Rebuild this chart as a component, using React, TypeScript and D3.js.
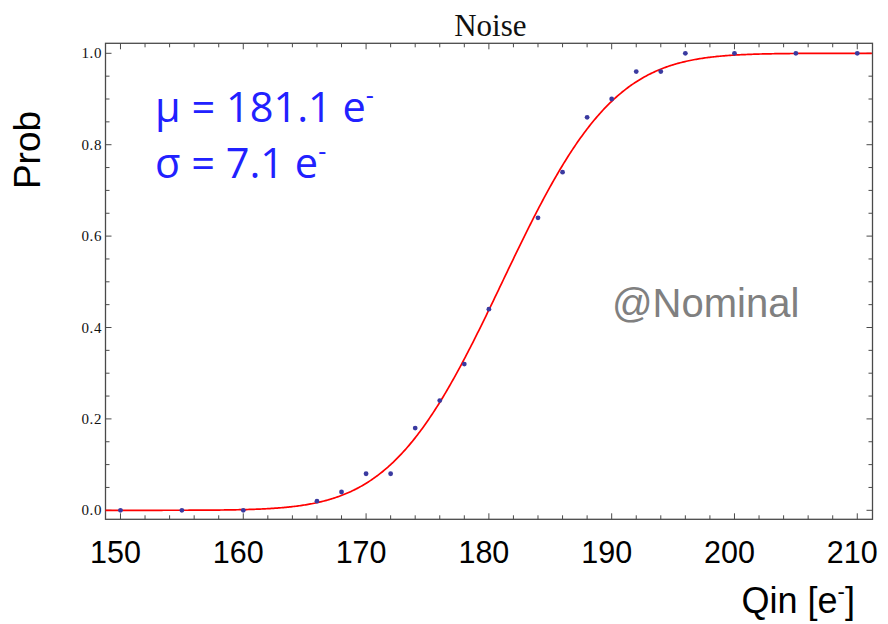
import React from "react";
import * as d3 from "d3";

// ---- data ----
const qinValues = [150, 155, 160, 166, 168, 170, 172, 174, 176, 178, 180, 184, 186, 188, 190, 192, 194, 196, 200, 205, 210];
const probValues = [0, 0, 0, 0.02, 0.04, 0.08, 0.08, 0.18, 0.24, 0.32, 0.44, 0.64, 0.74, 0.86, 0.9, 0.96, 0.96, 1.0, 1.0, 1.0, 1.0];
const fitMu = 181.1;
const fitSigma = 7.1;
const xTickLabels = [150, 160, 170, 180, 190, 200, 210];
const yTickLabels = ["0.0", "0.2", "0.4", "0.6", "0.8", "1.0"];
const titleText = "Noise";
const yTitle = "Prob";
const noteText = "@Nominal";

const W = 888;
const H = 624;
const frame = { left: 105.5, right: 872.5, top: 43.3, bottom: 519.3 };

function erf(x: number): number {
  const s = x < 0 ? -1 : 1;
  const a = Math.abs(x);
  const t = 1 / (1 + 0.3275911 * a);
  const y =
    1 -
    ((((1.061405429 * t - 1.453152027) * t + 1.421413741) * t - 0.284496736) * t + 0.254829592) *
      t *
      Math.exp(-a * a);
  return s * y;
}
const fitCdf = (x: number) => 0.5 * (1 + erf((x - fitMu) / (fitSigma * Math.SQRT2)));

export default function App() {
  const x = d3.scaleLinear().domain([148.78, 211.24]).range([frame.left, frame.right]);
  const y = d3.scaleLinear().domain([-0.0197, 1.0219]).range([frame.bottom, frame.top]);

  const xMajor = xTickLabels;
  const xMinor = d3.range(150, 211, 2).filter((v) => v % 10 !== 0);
  const yMajor = yTickLabels.map((s) => +s);
  const yMinor = d3.range(0, 1.0001, 0.05).filter((v) => Math.abs(v * 5 - Math.round(v * 5)) > 1e-6);

  const [d0, d1] = x.domain();
  const curvePts = d3.range(d0, d1 + 0.001, 0.1).map((v) => [v, fitCdf(v)] as [number, number]);
  const line = d3
    .line<[number, number]>()
    .x((d) => x(d[0]))
    .y((d) => y(d[1]))
    .curve(d3.curveLinear);

  const axisColor = "#4a4a4a";
  const majLen = 6;
  const minLen = 4;

  return (
    <svg width={W} height={H} style={{ position: "absolute", left: 0, top: 0, background: "#fff" }}>
      <rect x={0} y={0} width={W} height={H} fill="#fff" />
      {/* frame */}
      <rect
        x={frame.left}
        y={frame.top}
        width={frame.right - frame.left}
        height={frame.bottom - frame.top}
        fill="none"
        stroke={axisColor}
        strokeWidth={1.3}
      />
      {/* x ticks bottom & top */}
      {xMajor.map((v) => (
        <g key={"xM" + v}>
          <line x1={x(v)} x2={x(v)} y1={frame.bottom} y2={frame.bottom - majLen} stroke={axisColor} strokeWidth={1} />
          <line x1={x(v)} x2={x(v)} y1={frame.top} y2={frame.top + majLen} stroke={axisColor} strokeWidth={1} />
        </g>
      ))}
      {xMinor.map((v) => (
        <g key={"xm" + v}>
          <line x1={x(v)} x2={x(v)} y1={frame.bottom} y2={frame.bottom - minLen} stroke={axisColor} strokeWidth={1} />
          <line x1={x(v)} x2={x(v)} y1={frame.top} y2={frame.top + minLen} stroke={axisColor} strokeWidth={1} />
        </g>
      ))}
      {/* y ticks left & right */}
      {yMajor.map((v) => (
        <g key={"yM" + v}>
          <line x1={frame.left} x2={frame.left + majLen} y1={y(v)} y2={y(v)} stroke={axisColor} strokeWidth={1} />
          <line x1={frame.right} x2={frame.right - majLen} y1={y(v)} y2={y(v)} stroke={axisColor} strokeWidth={1} />
        </g>
      ))}
      {yMinor.map((v) => (
        <g key={"ym" + v}>
          <line x1={frame.left} x2={frame.left + minLen} y1={y(v)} y2={y(v)} stroke={axisColor} strokeWidth={1} />
          <line x1={frame.right} x2={frame.right - minLen} y1={y(v)} y2={y(v)} stroke={axisColor} strokeWidth={1} />
        </g>
      ))}
      {/* y tick labels */}
      {yTickLabels.map((s) => (
        <text
          key={"yl" + s}
          x={frame.left - 3.5}
          y={y(+s)}
          dy="0.34em"
          textAnchor="end"
          fontFamily="'Liberation Serif', serif"
          fontSize={15}
          letterSpacing={0.6}
          fill="#111"
        >
          {s}
        </text>
      ))}
      {/* x tick labels */}
      {xTickLabels.map((v) => (
        <text
          key={"xl" + v}
          x={x(v) - 5}
          y={563}
          textAnchor="middle"
          fontFamily="'Liberation Sans', Arial, sans-serif"
          fontSize={30.5}
          fill="#000"
        >
          {v}
        </text>
      ))}
      {/* fit curve */}
      <path d={line(curvePts) || ""} fill="none" stroke="#ff0000" strokeWidth={1.7} />
      {/* data points */}
      {qinValues.map((q, i) => (
        <circle key={"p" + i} cx={x(q)} cy={y(probValues[i])} r={2.4} fill="#3a3aa0" />
      ))}
      {/* title */}
      <text x={490.3} y={35.5} textAnchor="middle" fontFamily="'Liberation Serif', serif" fontSize={31} fill="#111">
        {titleText}
      </text>
      {/* y title */}
      <text
        transform="translate(39.5,150) rotate(-90)"
        textAnchor="middle"
        fontFamily="'Liberation Sans', Arial, sans-serif"
        fontSize={37}
        fill="#000"
      >
        {yTitle}
      </text>
      {/* x title */}
      <text x={741.5} y={613} fontFamily="'Liberation Sans', Arial, sans-serif" fontSize={36} fill="#000">
        Qin [e
        <tspan dy={-14} fontSize={22}>
          -
        </tspan>
        <tspan dy={14}>]</tspan>
      </text>
      {/* annotations */}
      <text x={155} y={121.7} fontFamily="'Open Sans', sans-serif" fontSize={41.5} fill="#2121ff">
        {"μ = " + fitMu.toFixed(1) + " e"}
        <tspan dy={-18} fontSize={25}>
          -
        </tspan>
      </text>
      <text x={155} y={178.3} fontFamily="'Open Sans', sans-serif" fontSize={41.5} fill="#2121ff">
        {"σ = " + fitSigma.toFixed(1) + " e"}
        <tspan dy={-18} fontSize={25}>
          -
        </tspan>
      </text>
      <text x={612} y={317} fontFamily="'Liberation Sans', Arial, sans-serif" fontSize={40} fill="#808080">
        {noteText}
      </text>
    </svg>
  );
}
